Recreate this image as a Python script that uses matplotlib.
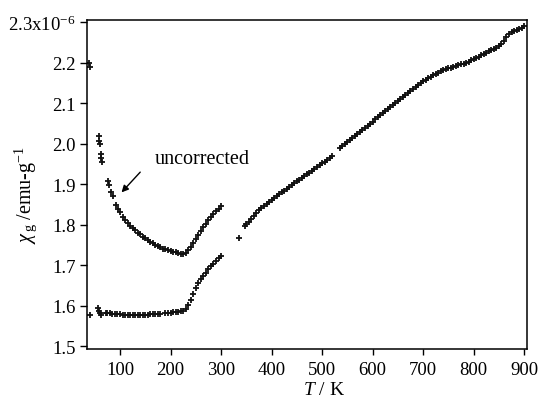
import matplotlib
matplotlib.use("Agg")
import matplotlib.pyplot as plt

plt.rcParams['font.family'] = ['Liberation Serif', 'DejaVu Serif']
plt.rcParams['mathtext.fontset'] = 'custom'
plt.rcParams['mathtext.rm'] = 'Liberation Serif'
plt.rcParams['mathtext.it'] = 'Liberation Serif:italic'

# ---- data (T in K, chi in 1e-6 emu/g) ----
unc_T_low = [39, 41, 58, 59, 60, 62, 63, 64, 76, 79, 83, 87,
             93, 96, 100, 106, 110, 115, 120, 126, 130, 135, 140, 145, 150, 155,
             160, 165, 170, 175, 180, 185, 190, 195, 200, 205, 210, 215, 220, 225,
             230, 235, 240, 245, 250, 255, 260, 265, 270, 275, 280, 285, 290, 295, 300]
unc_chi_low = [2.200, 2.190, 2.018, 2.008, 2.000, 1.975, 1.965, 1.955, 1.908, 1.898, 1.880, 1.870,
               1.848, 1.840, 1.832, 1.818, 1.812, 1.804, 1.797, 1.792, 1.786, 1.780, 1.776, 1.771, 1.767, 1.763,
               1.758, 1.754, 1.751, 1.747, 1.744, 1.741, 1.739, 1.737, 1.736, 1.734, 1.732, 1.730, 1.728, 1.727,
               1.730, 1.737, 1.746, 1.756, 1.765, 1.775, 1.785, 1.794, 1.803, 1.811, 1.818, 1.826, 1.833, 1.840, 1.847]

unc_T_high = [336, 347, 350, 355, 360, 365, 370, 375, 380, 385, 390, 395, 400, 405, 410, 415, 420, 425,
              430, 435, 440, 445, 450, 455, 460, 465, 470, 475, 480, 485, 490, 495, 500, 505, 510,
              515, 520, 535, 540, 545, 550, 555, 560, 565, 570, 575, 580, 585, 590, 595, 600, 605,
              610, 615, 620, 625, 630, 635, 640, 645, 650, 655, 660, 665, 670, 675, 680, 685, 690,
              695, 700, 705, 710, 715, 720, 725, 730, 735, 740, 745, 750, 755, 760, 765, 770, 775,
              780, 785, 790, 795, 800, 805, 810, 815, 820, 825, 830, 835, 840, 845, 850, 855, 860,
              865, 870, 875, 880, 885, 890, 895, 900]
unc_chi_high = [1.768, 1.797, 1.801, 1.808, 1.815, 1.822, 1.829, 1.836, 1.842, 1.847, 1.852, 1.857, 1.862,
                1.866, 1.871, 1.875, 1.880, 1.884, 1.889, 1.893, 1.898, 1.902, 1.907, 1.911, 1.916, 1.920,
                1.925, 1.929, 1.934, 1.938, 1.943, 1.947, 1.952, 1.956, 1.961, 1.965, 1.970, 1.990, 1.995,
                2.000, 2.005, 2.010, 2.015, 2.020, 2.025, 2.030, 2.035, 2.040, 2.045, 2.050, 2.055, 2.060,
                2.066, 2.071, 2.076, 2.081, 2.086, 2.091, 2.096, 2.101, 2.106, 2.110, 2.115, 2.120, 2.125,
                2.130, 2.135, 2.140, 2.145, 2.149, 2.154, 2.158, 2.162, 2.166, 2.170, 2.173, 2.176, 2.179,
                2.182, 2.184, 2.186, 2.188, 2.190, 2.192, 2.194, 2.196, 2.198, 2.200, 2.203, 2.206, 2.209,
                2.212, 2.215, 2.219, 2.222, 2.225, 2.228, 2.231, 2.234, 2.237, 2.241, 2.247, 2.255, 2.263,
                2.270, 2.275, 2.278, 2.281, 2.284, 2.287, 2.290]

cor_T = [40, 56, 58, 60, 62, 72, 75, 80, 85, 90, 95, 100, 105, 110, 115, 120, 125, 130, 135, 140,
         145, 150, 155, 160, 165, 170, 175, 180, 190, 195, 200, 205, 210, 215, 220, 225, 230, 235,
         240, 245, 250, 255, 260, 265, 270, 275, 280, 285, 290, 295, 300]
cor_chi = [1.576, 1.594, 1.588, 1.582, 1.576, 1.582, 1.583, 1.581, 1.580, 1.580, 1.579, 1.579, 1.578,
           1.578, 1.578, 1.578, 1.578, 1.578, 1.578, 1.578, 1.578, 1.578, 1.578, 1.579, 1.579, 1.579,
           1.580, 1.580, 1.582, 1.582, 1.583, 1.584, 1.585, 1.585, 1.586, 1.588, 1.592, 1.602, 1.615,
           1.629, 1.643, 1.655, 1.665, 1.674, 1.682, 1.690, 1.697, 1.704, 1.711, 1.718, 1.724]

x_ticks = [100, 200, 300, 400, 500, 600, 700, 800, 900]
y_ticks = [1.5, 1.6, 1.7, 1.8, 1.9, 2.0, 2.1, 2.2, 2.3]
y_ticklabels = ['1.5', '1.6', '1.7', '1.8', '1.9', '2.0', '2.1', '2.2', '2.3x10$^{-6}$']

fig = plt.figure(figsize=(5.40, 4.02), dpi=100)
ax = fig.add_axes([0.1605, 0.1294, 0.8148, 0.8191])

mk = dict(linestyle='none', marker='+', markersize=4.2, markeredgewidth=1.3, color='#111111')
ax.plot(unc_T_low, unc_chi_low, **mk)
ax.plot(unc_T_high, unc_chi_high, **mk)
ax.plot(cor_T, cor_chi, **mk)

ax.set_xlim(34, 905)
ax.set_ylim(1.4933, 2.3064)
ax.set_xticks(x_ticks)
ax.set_yticks(y_ticks)
ax.set_yticklabels(y_ticklabels)
ax.tick_params(axis='x', direction='out', length=4.3, width=1.0, pad=4.5, labelsize=13.5)
ax.tick_params(axis='y', direction='out', length=5.0, width=1.0, pad=3.0, labelsize=13.5)
for s in ax.spines.values():
    s.set_linewidth(1.1)

ax.annotate('', xy=(103, 1.880), xytext=(140, 1.930),
            arrowprops=dict(arrowstyle='-|>', color='black', lw=1.0,
                            mutation_scale=10, shrinkA=0, shrinkB=0))
ax.text(169, 1.953, 'uncorrected', fontsize=14.5, va='baseline', ha='left')

ax.set_xlabel('$T$ / K', fontsize=14)
ax.xaxis.set_label_coords(0.539, -0.098)
ax.set_ylabel(r'$\chi_{\,\mathrm{g}}$ /emu-g$^{-1}$', fontsize=14.5)
ax.yaxis.set_label_coords(-0.108, 0.47)

fig.savefig('out.png', dpi=100)
